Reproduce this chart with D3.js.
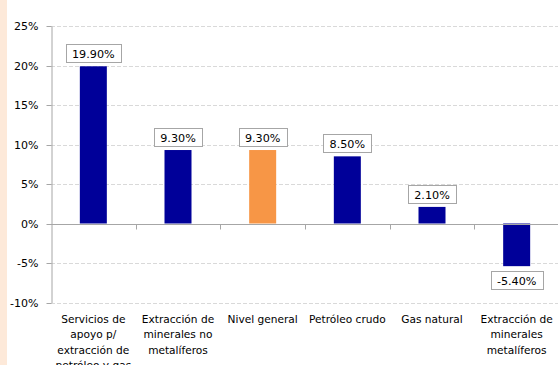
<!DOCTYPE html>
<html><head><meta charset="utf-8">
<script src="https://cdn.jsdelivr.net/npm/d3@7"></script>
<style>
html,body{margin:0;padding:0;background:#fff;}
svg{display:block;}
text{font-family:"DejaVu Sans",Verdana,sans-serif;}
</style></head>
<body>
<script>
const categories = [
  ["Servicios de","apoyo p/","extracción de","petróleo y gas"],
  ["Extracción de","minerales no","metalíferos"],
  ["Nivel general"],
  ["Petróleo crudo"],
  ["Gas natural"],
  ["Extracción de","minerales","metalíferos"]
];
const values = [19.9, 9.3, 9.3, 8.5, 2.1, -5.4];
const highlight = [false, false, true, false, false, false];
const yTicks = [-10, -5, 0, 5, 10, 15, 20, 25];

const W = 558, H = 365;
const svg = d3.select("body").append("svg").attr("width", W).attr("height", H);

svg.append("rect").attr("x",0).attr("y",0).attr("width",7).attr("height",H).attr("fill","#fde9d9");

const x = d3.scaleBand().domain(d3.range(values.length)).range([51, 559]).paddingInner(0).paddingOuter(0);
const y = d3.scaleLinear().domain([-10, 25]).range([302.5, 26]);

// gridlines
svg.append("g").selectAll("line").data(yTicks.filter(t => t !== 0)).join("line")
  .attr("x1", 51).attr("x2", 558)
  .attr("y1", d => Math.round(y(d)) + 0.5).attr("y2", d => Math.round(y(d)) + 0.5)
  .attr("stroke", "#d9d9d9").attr("stroke-dasharray", "4,2");

// y axis
const yAxis = d3.axisLeft(y).tickValues(yTicks).tickFormat(d => d + "%").tickSize(5).tickSizeOuter(0);
const gy = svg.append("g").attr("transform", "translate(51.5,0)").call(yAxis);
gy.select(".domain").attr("stroke", "#a6a6a6");
gy.selectAll(".tick line").attr("stroke", "#a6a6a6");
gy.selectAll(".tick").attr("transform", d => `translate(0,${Math.round(y(d)) + 0.5})`);
gy.selectAll(".tick text").attr("x", -13).attr("font-size", "11px").attr("fill", "#000")
  .style("font-family", '"DejaVu Sans", Verdana, sans-serif');

// bars
const bw = 27;
svg.append("g").selectAll("rect").data(values).join("rect")
  .attr("x", (d, i) => x(i) + x.bandwidth() / 2 - bw / 2)
  .attr("width", bw)
  .attr("y", d => y(Math.max(0, d)))
  .attr("height", d => Math.abs(y(d) - y(0)))
  .attr("fill", (d, i) => highlight[i] ? "#f79646" : "#000099");

// zero axis
const y0 = Math.round(y(0)) + 0.5;
svg.append("line").attr("x1", 51).attr("x2", 558).attr("y1", y0).attr("y2", y0).attr("stroke", "#a6a6a6");
svg.append("g").selectAll("line").data(d3.range(1, values.length)).join("line")
  .attr("x1", i => Math.round(x(i)) + 0.5).attr("x2", i => Math.round(x(i)) + 0.5)
  .attr("y1", y0).attr("y2", y0 + 5).attr("stroke", "#a6a6a6");

// value labels
const lab = svg.append("g").selectAll("g").data(values).join("g");
lab.each(function(d, i) {
  const g = d3.select(this);
  const cx = x(i) + x.bandwidth() / 2;
  const t = g.append("text").attr("x", cx).attr("text-anchor", "middle")
    .attr("font-size", "11.2px").attr("fill", "#000")
    .text(d.toFixed(2) + "%");
  const tw = t.node().getComputedTextLength();
  const bh = 18;
  const boxW = Math.round(tw + 12);
  let top;
  if (d >= 0) top = Math.round(y(d)) - 4 - bh;
  else top = Math.round(y(d)) + 5;
  g.insert("rect", "text").attr("x", Math.round(cx - boxW / 2) + 0.5).attr("y", top + 0.5)
    .attr("width", boxW).attr("height", bh).attr("fill", "#fff").attr("stroke", "#a6a6a6");
  t.attr("y", top + bh / 2 + 4.5);
});

// category labels
const cl = svg.append("g").selectAll("text").data(categories).join("text")
  .attr("text-anchor", "middle").attr("font-size", "10.6px").attr("fill", "#000")
  .attr("x", (d, i) => x(i) + x.bandwidth() / 2);
cl.each(function(lines) {
  d3.select(this).selectAll("tspan").data(lines).join("tspan")
    .attr("x", d3.select(this).attr("x"))
    .attr("y", (l, j) => 322.5 + j * 15.5)
    .text(l => l);
});
</script>
</body></html>
